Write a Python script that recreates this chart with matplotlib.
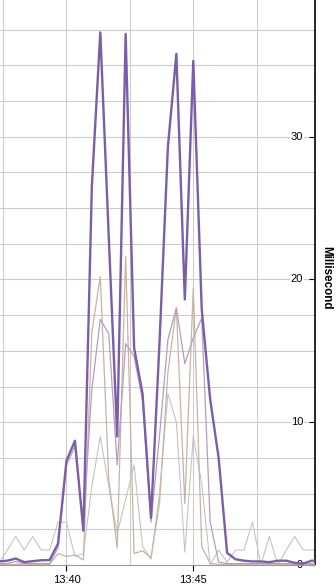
import matplotlib
matplotlib.use("Agg")
import matplotlib.pyplot as plt
from matplotlib.ticker import MultipleLocator, FuncFormatter
import pandas as pd

# ---- data (20-second samples) ----
times = pd.date_range("2024-01-01 13:37:20", periods=39, freq="20s")

main_ms = [0.25, 0.3, 0.45, 0.2, 0.27, 0.33, 0.35, 1.5, 7.3, 8.7,
           2.4, 26.5, 37.3, 23.0, 9.0, 37.2, 15.2, 12.0, 3.3, 15.5,
           29.3, 35.8, 18.6, 35.3, 17.9, 11.6, 7.5, 0.85, 0.4, 0.3,
           0.25, 0.25, 0.2, 0.3, 0.3, 0.15, 0.1, 0.3, 0.3]

pink_ms = [0.1, 0.1, 0.25, 0.1, 0.1, 0.1, 0.1, 1.2, 7.0, 8.3,
           2.8, 12.3, 17.2, 16.2, 7.0, 15.5, 14.6, 11.5, 3.0, 9.0,
           15.8, 18.0, 14.1, 15.9, 17.3, 3.0, 0.2, 0.1, 0.1, 0.1,
           0.1, 0.1, 0.1, 0.1, 0.1, 0.05, 0.05, 0.1, 0.1]

tan_ms = [0.05, 0.05, 0.05, 0.05, 0.05, 0.05, 0.05, 0.8, 0.6, 0.7,
          0.35, 16.3, 20.2, 6.0, 1.2, 21.6, 0.8, 1.0, 0.5, 4.3,
          13.5, 18.0, 4.3, 19.4, 1.3, 0.1, 0.05, 0.05, 0.05, 0.05,
          0.05, 0.05, 0.05, 0.05, 0.05, 0.05, 0.05, 0.05, 0.05]

grey_ms = [0.1, 1.05, 2.0, 1.05, 2.0, 1.05, 1.05, 3.0, 3.0, 0.6,
           0.8, 5.5, 9.0, 5.5, 2.2, 4.6, 7.0, 1.3, 0.4, 5.0,
           12.0, 10.0, 0.9, 9.0, 5.7, 0.0, 1.05, 0.2, 1.05, 1.05,
           3.0, 0.0, 2.0, 0.0, 1.05, 2.0, 1.05, 1.05, 1.05]

y_label = "Millisecond"

# x in minutes after midnight
x = [t.hour * 60 + t.minute + t.second / 60 for t in times]

fig = plt.figure(figsize=(3.36, 5.86), dpi=100)
ax = fig.add_axes([0.0, 21 / 586, 315 / 336, 565 / 586])

ax.plot(x, grey_ms, color="#c4c4c4", lw=0.8, zorder=2)
ax.plot(x, tan_ms, color="#c9b3a4", lw=0.9, zorder=3)
ax.plot(x, pink_ms, color="#b89cc0", lw=0.9, zorder=4)
ax.plot(x, main_ms, color="#7b5ea8", lw=1.7, zorder=5)

ax.set_xlim(13 * 60 + 37 + 22.7 / 60, 13 * 60 + 49.8)
ax.set_ylim(0, 39.57)

ax.xaxis.set_major_locator(MultipleLocator(5))
ax.xaxis.set_minor_locator(MultipleLocator(2.5))
ax.xaxis.set_major_formatter(FuncFormatter(lambda v, p: f"{int(v // 60)}:{int(round(v % 60)):02d}"))
ax.yaxis.set_major_locator(MultipleLocator(10))
ax.yaxis.set_minor_locator(MultipleLocator(2.5))

ax.grid(which="both", color="#cccccc", lw=0.8, zorder=0)
ax.set_axisbelow(True)

for side in ("left", "top"):
    ax.spines[side].set_visible(False)
ax.spines["right"].set_color("black")
ax.spines["right"].set_linewidth(1.2)
ax.spines["bottom"].set_color("#999999")
ax.spines["bottom"].set_linewidth(0.8)

ax.yaxis.set_ticks_position("right")
ax.tick_params(axis="y", which="major", direction="in", length=4, width=0.8,
               pad=-8.5, labelsize=8, labelright=True, labelleft=False, colors="black")
ax.tick_params(axis="y", which="minor", length=0)
ax.tick_params(axis="x", which="major", direction="out", length=4, width=0.8,
               pad=3, labelsize=8)
ax.tick_params(axis="x", which="minor", length=0)

for lbl in ax.get_xticklabels() + ax.get_yticklabels():
    lbl.set_fontfamily("Liberation Sans")
for tick in ax.yaxis.get_major_ticks():
    tick.label2.set_horizontalalignment("right")
    tick.label2.set_verticalalignment("center")
    tick.label2.set_bbox(dict(facecolor="white", edgecolor="none", pad=0.5))
    tick.label2.set_zorder(10)

fig.text(326 / 336, 1 - 278 / 586, y_label, rotation=-90, ha="center", va="center",
         fontsize=8.4, fontweight="bold", family="Liberation Sans")

fig.savefig("out.png", dpi=100)
